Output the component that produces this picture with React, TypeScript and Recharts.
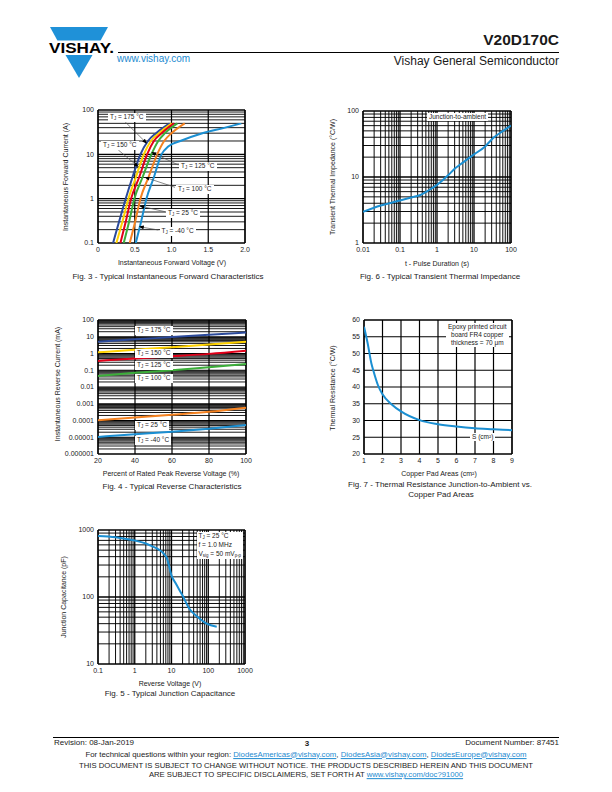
import React from "react";
import { LineChart, Line, XAxis, YAxis, ReferenceLine } from "recharts";

const FONT = '"Liberation Sans", Arial, Helvetica, sans-serif';
const INK = "#1a1a1a";
const LINK = "#1d8ad0";
const LOGO_BLUE = "#1f91d8";

const C175 = "#2b4a9b";
const C150 = "#ffd200";
const C125 = "#e2001a";
const C100 = "#3cae3a";
const C25 = "#f58220";
const CM40 = "#1b8fd2";

// Fig. 3 - forward characteristics: voltage (V) at each current level (A)
const fwdCurrent = [0.1, 0.3, 1, 3, 10, 20, 30, 50];
const fwdV175 = [0.205, 0.286, 0.377, 0.468, 0.577, 0.68, 0.79, 0.975];
const fwdV150 = [0.25, 0.332, 0.414, 0.514, 0.623, 0.72, 0.83, 1.005];
const fwdV125 = [0.305, 0.377, 0.45, 0.559, 0.668, 0.76, 0.865, 1.035];
const fwdV100 = [0.35, 0.423, 0.495, 0.605, 0.727, 0.82, 0.91, 1.08];
const fwdV25 = [0.432, 0.505, 0.577, 0.686, 0.805, 0.9, 1.0, 1.18];
const fwdCurrentCold = [0.1, 0.3, 1, 3, 10, 15, 20, 30, 40, 50];
const fwdVm40 = [0.514, 0.586, 0.659, 0.759, 0.864, 0.955, 1.12, 1.42, 1.73, 1.95];
const fwdVoltTicks = [0, 0.5, 1, 1.5, 2];
const fwdVoltLabels = ["0", "0.5", "1.0", "1.5", "2.0"];
const fwdAmpTicks = [0.1, 1, 10, 100];
const fwdAmpLabels = ["0.1", "1", "10", "100"];

// Fig. 6 - transient thermal impedance
const zthTime = [0.01, 0.03, 0.1, 0.2, 0.34, 0.6, 1, 2, 3, 5, 10, 20, 33, 60, 100];
const zthValue = [2.97, 3.7, 4.4, 4.9, 5.3, 6.3, 7.6, 10.6, 13.3, 16.5, 22, 29, 39, 49.5, 60];
const zthTimeTicks = [0.01, 0.1, 1, 10, 100];
const zthTimeLabels = ["0.01", "0.1", "1", "10", "100"];
const zthTicks = [1, 10, 100];
const zthLabels = ["1", "10", "100"];

// Fig. 4 - reverse characteristics (mA) vs percent of rated voltage
const revPct = [20, 40, 60, 80, 100];
const rev175 = [5.1, 7, 9.5, 13, 18];
const rev150 = [1.17, 1.7, 2.4, 3.4, 5.1];
const rev125 = [0.36, 0.5, 0.68, 0.95, 1.47];
const rev100 = [0.045, 0.07, 0.1, 0.15, 0.24];
const rev25 = [0.000105, 0.00015, 0.00022, 0.00033, 0.00058];
const revM40 = [0.0000105, 0.000015, 0.000021, 0.000032, 0.000053];
const revPctTicks = [20, 40, 60, 80, 100];
const revPctLabels = ["20", "40", "60", "80", "100"];
const revTicks = [0.000001, 0.00001, 0.0001, 0.001, 0.01, 0.1, 1, 10, 100];
const revLabels = ["0.000001", "0.00001", "0.0001", "0.001", "0.01", "0.1", "1", "10", "100"];

// Fig. 7 - thermal resistance vs copper pad area
const padArea = [1, 1.2, 1.4, 1.5, 1.75, 2, 2.5, 3, 4, 5, 6, 7, 8, 9];
const rthJA = [58, 53, 47, 45, 40.6, 37.8, 34.8, 32.7, 30.1, 28.9, 28.2, 27.7, 27.4, 27.1];
const padTicks = [1, 2, 3, 4, 5, 6, 7, 8, 9];
const padLabels = padTicks.map(String);
const rthTicks = [20, 25, 30, 35, 40, 45, 50, 55, 60];
const rthLabels = rthTicks.map(String);

// Fig. 5 - junction capacitance
const capVoltage = [0.1, 0.3, 1, 2, 3, 4.5, 6, 7.5, 9, 10, 13, 20, 30, 50, 90, 170];
const capValue = [815, 780, 695, 630, 570, 510, 450, 380, 260, 210, 160, 105, 68, 51, 40, 36];
const capVoltTicks = [0.1, 1, 10, 100, 1000];
const capVoltLabels = ["0.1", "1", "10", "100", "1000"];
const capTicks = [10, 100, 1000];
const capLabels = ["10", "100", "1000"];

type Pt = { x: number; y: number };
type GridLine = { v: number; w: number };
interface AxisSpec {
  domain: [number, number];
  log?: boolean;
  ticks: number[];
  labels: string[];
  grid: GridLine[];
}
interface SeriesSpec {
  name: string;
  points: Pt[];
  color: string;
  width: number;
}

const pts = (xs: number[], ys: number[]): Pt[] => xs.map((x, i) => ({ x, y: ys[i] }));

// log grid: every 1..9 inside each decade, the decade lines a bit heavier
const logGrid = (lo: number, hi: number, minor = 0.95, major = 1.3): GridLine[] => {
  const out: GridLine[] = [];
  for (let e = lo; e < hi; e++) {
    for (let k = 1; k < 10; k++) {
      if (e === lo && k === 1) continue;
      out.push({ v: k * Math.pow(10, e), w: k === 1 ? major : minor });
    }
  }
  return out;
};
const linGrid = (vals: number[]): GridLine[] => vals.map((v) => ({ v, w: 1.2 }));

const ML = 40;
const MT = 6;
const MR = 14;
const MB = 16;

function Panel({
  left,
  top,
  w,
  h,
  x,
  y,
  series,
}: {
  left: number;
  top: number;
  w: number;
  h: number;
  x: AxisSpec;
  y: AxisSpec;
  series: SeriesSpec[];
}) {
  const tickStyle = { fontSize: 7, fill: INK, fontFamily: FONT };
  const fmt = (a: AxisSpec) => (v: number) => {
    const i = a.ticks.indexOf(v);
    return i >= 0 ? a.labels[i] : String(v);
  };
  return (
    <div style={{ position: "absolute", left: left - ML, top: top - MT }}>
      <LineChart width={ML + w + MR} height={MT + h + MB} margin={{ top: MT, right: MR, left: 0, bottom: 0 }}>
        <XAxis
          dataKey="x"
          type="number"
          scale={x.log ? "log" : "linear"}
          domain={x.domain}
          allowDataOverflow
          ticks={x.ticks}
          interval={0}
          tickFormatter={fmt(x)}
          tick={tickStyle}
          tickLine={false}
          axisLine={false}
          tickSize={0}
          tickMargin={4}
          height={MB}
        />
        <YAxis
          dataKey="y"
          type="number"
          scale={y.log ? "log" : "linear"}
          domain={y.domain}
          allowDataOverflow
          ticks={y.ticks}
          interval={0}
          tickFormatter={fmt(y)}
          tick={tickStyle}
          tickLine={false}
          axisLine={false}
          tickSize={0}
          tickMargin={4}
          width={ML}
        />
        {x.grid.map((g) => (
          <ReferenceLine key={"gx" + g.v} x={g.v} stroke="#000" strokeWidth={g.w} zIndex={-100} />
        ))}
        {y.grid.map((g) => (
          <ReferenceLine key={"gy" + g.v} y={g.v} stroke="#000" strokeWidth={g.w} zIndex={-100} />
        ))}
        <ReferenceLine x={x.domain[0]} stroke="#000" strokeWidth={1.7} zIndex={-100} />
        <ReferenceLine x={x.domain[1]} stroke="#000" strokeWidth={1.7} zIndex={-100} />
        <ReferenceLine y={y.domain[0]} stroke="#000" strokeWidth={1.7} zIndex={-100} />
        <ReferenceLine y={y.domain[1]} stroke="#000" strokeWidth={1.7} zIndex={-100} />
        {series.map((s) => (
          <Line
            key={s.name}
            name={s.name}
            data={s.points}
            dataKey="y"
            type="monotone"
            stroke={s.color}
            strokeWidth={s.width}
            dot={false}
            activeDot={false}
            isAnimationActive={false}
          />
        ))}
      </LineChart>
    </div>
  );
}

const Sub = ({ children }: { children: React.ReactNode }) => (
  <span style={{ fontSize: "68%", position: "relative", top: "0.3em" }}>{children}</span>
);

const Txt = ({
  x,
  y,
  size = 7,
  anchor = "start",
  rotate = false,
  weight = 400,
  color = INK,
  children,
}: {
  x: number;
  y: number;
  size?: number;
  anchor?: "start" | "middle" | "end";
  rotate?: boolean;
  weight?: number;
  color?: string;
  children: React.ReactNode;
}) => {
  const tx = anchor === "middle" ? "-50%" : anchor === "end" ? "-100%" : "0";
  return (
    <div
      style={{
        position: "absolute",
        left: x,
        top: y,
        transform: rotate ? "translate(-50%,-50%) rotate(-90deg)" : `translate(${tx},-50%)`,
        fontSize: size,
        fontWeight: weight,
        color,
        whiteSpace: "nowrap",
        lineHeight: 1,
      }}
    >
      {children}
    </div>
  );
};

const Tag = ({
  x,
  y,
  children,
  center = false,
  lh = 8,
}: {
  x: number;
  y: number;
  children: React.ReactNode;
  center?: boolean;
  lh?: number;
}) => (
  <div
    style={{
      position: "absolute",
      left: x,
      top: y,
      background: "#fff",
      fontSize: 6.5,
      lineHeight: lh + "px",
      padding: "0 2px",
      whiteSpace: "nowrap",
      color: INK,
      textAlign: center ? "center" : "left",
    }}
  >
    {children}
  </div>
);

const Link = ({ children }: { children: React.ReactNode }) => (
  <span style={{ color: LINK, textDecoration: "underline" }}>{children}</span>
);

const TJ = ({ t }: { t: string }) => (
  <>
    T<Sub>J</Sub> = {t} °C
  </>
);

// leader lines of Fig. 3, page coordinates
const fig3Arrows = [
  [125, 121.7, 146.7, 143.3],
  [118.3, 150, 138.3, 166.7],
  [178.3, 165, 151.7, 152.3],
  [175, 187.3, 145, 177.3],
  [165, 211.7, 140, 206],
  [158.3, 230, 139.3, 226.7],
];

export default function App() {
  const fig3: SeriesSpec[] = [
    { name: "175", points: pts(fwdV175, fwdCurrent), color: C175, width: 2 },
    { name: "150", points: pts(fwdV150, fwdCurrent), color: C150, width: 2 },
    { name: "125", points: pts(fwdV125, fwdCurrent), color: C125, width: 2 },
    { name: "100", points: pts(fwdV100, fwdCurrent), color: C100, width: 2 },
    { name: "25", points: pts(fwdV25, fwdCurrent), color: C25, width: 2 },
    { name: "-40", points: pts(fwdVm40, fwdCurrentCold), color: CM40, width: 2 },
  ];
  const fig4: SeriesSpec[] = [
    { name: "175", points: pts(revPct, rev175), color: C175, width: 2 },
    { name: "150", points: pts(revPct, rev150), color: C150, width: 2 },
    { name: "125", points: pts(revPct, rev125), color: C125, width: 2 },
    { name: "100", points: pts(revPct, rev100), color: C100, width: 2 },
    { name: "25", points: pts(revPct, rev25), color: C25, width: 2 },
    { name: "-40", points: pts(revPct, revM40), color: CM40, width: 2 },
  ];

  return (
    <div
      style={{
        position: "absolute",
        left: 0,
        top: 0,
        width: 612,
        height: 792,
        overflow: "hidden",
        background: "#fff",
        fontFamily: FONT,
        color: INK,
      }}
    >
      {/* header */}
      <svg width={612} height={90} style={{ position: "absolute", left: 0, top: 0 }}>
        <polygon points="50,27 108,27 100.6,40.5 57.4,40.5" fill={LOGO_BLUE} />
        <polygon points="65.5,55 92.5,55 79,78" fill={LOGO_BLUE} />
        <text
          x={49}
          y={53}
          fontFamily={FONT}
          fontWeight={700}
          fontSize={14.5}
          textLength={65}
          lengthAdjust="spacingAndGlyphs"
          fill="#000"
        >
          VISHAY.
        </text>
        <line x1={118} y1={52.5} x2={559} y2={52.5} stroke="#000" strokeWidth={1} />
      </svg>
      <Txt x={559} y={40} size={15.5} weight={700} anchor="end">
        V20D170C
      </Txt>
      <Txt x={117} y={59} size={10} color={LINK}>
        www.vishay.com
      </Txt>
      <Txt x={559} y={61} size={12} anchor="end">
        Vishay General Semiconductor
      </Txt>

      {/* Fig. 3 */}
      <Panel
        left={98}
        top={110}
        w={147}
        h={133}
        x={{ domain: [0, 2], ticks: fwdVoltTicks, labels: fwdVoltLabels, grid: linGrid([0.5, 1, 1.5]) }}
        y={{ domain: [0.1, 100], log: true, ticks: fwdAmpTicks, labels: fwdAmpLabels, grid: logGrid(-1, 2, 0.9, 1.2) }}
        series={fig3}
      />
      {/* Fig. 6 */}
      <Panel
        left={363}
        top={111}
        w={148}
        h={132}
        x={{ domain: [0.01, 100], log: true, ticks: zthTimeTicks, labels: zthTimeLabels, grid: logGrid(-2, 2) }}
        y={{ domain: [1, 100], log: true, ticks: zthTicks, labels: zthLabels, grid: logGrid(0, 2) }}
        series={[{ name: "zth", points: pts(zthTime, zthValue), color: CM40, width: 2 }]}
      />
      {/* Fig. 4 */}
      <Panel
        left={98}
        top={320}
        w={148}
        h={134}
        x={{ domain: [20, 100], ticks: revPctTicks, labels: revPctLabels, grid: linGrid([40, 60, 80]) }}
        y={{ domain: [0.000001, 100], log: true, ticks: revTicks, labels: revLabels, grid: logGrid(-6, 2, 0.9, 1.2) }}
        series={fig4}
      />
      {/* Fig. 7 */}
      <Panel
        left={364}
        top={320}
        w={148}
        h={134}
        x={{ domain: [1, 9], ticks: padTicks, labels: padLabels, grid: linGrid([2, 3, 4, 5, 6, 7, 8]) }}
        y={{ domain: [20, 60], ticks: rthTicks, labels: rthLabels, grid: linGrid([25, 30, 35, 40, 45, 50, 55]) }}
        series={[{ name: "rth", points: pts(padArea, rthJA), color: CM40, width: 2 }]}
      />
      {/* Fig. 5 */}
      <Panel
        left={98}
        top={530}
        w={147}
        h={134}
        x={{ domain: [0.1, 1000], log: true, ticks: capVoltTicks, labels: capVoltLabels, grid: logGrid(-1, 3) }}
        y={{ domain: [10, 1000], log: true, ticks: capTicks, labels: capLabels, grid: logGrid(1, 3) }}
        series={[{ name: "cj", points: pts(capVoltage, capValue), color: CM40, width: 2 }]}
      />

      {/* Fig. 3 leader lines */}
      <svg width={612} height={792} style={{ position: "absolute", left: 0, top: 0, pointerEvents: "none" }}>
        <defs>
          <marker id="ah" markerWidth={5} markerHeight={4} refX={4.5} refY={2} orient="auto" markerUnits="userSpaceOnUse">
            <path d="M0,0 L5,2 L0,4 z" fill="#000" />
          </marker>
        </defs>
        {fig3Arrows.map((a, i) => (
          <line key={i} x1={a[0]} y1={a[1]} x2={a[2]} y2={a[3]} stroke="#555" strokeWidth={0.7} markerEnd="url(#ah)" />
        ))}
      </svg>

      {/* Fig. 3 labels */}
      <Tag x={108} y={112.5}><TJ t="175" /></Tag>
      <Tag x={101} y={141}><TJ t="150" /></Tag>
      <Tag x={179} y={162}><TJ t="125" /></Tag>
      <Tag x={176} y={184.5}><TJ t="100" /></Tag>
      <Tag x={166} y={209}><TJ t="25" /></Tag>
      <Tag x={159.5} y={227}><TJ t="-40" /></Tag>

      {/* Fig. 4 labels */}
      <Tag x={135} y={325.5}><TJ t="175" /></Tag>
      <Tag x={135} y={349}><TJ t="150" /></Tag>
      <Tag x={135} y={360.5}><TJ t="125" /></Tag>
      <Tag x={135} y={374}><TJ t="100" /></Tag>
      <Tag x={135} y={421}><TJ t="25" /></Tag>
      <Tag x={135} y={436}><TJ t="-40" /></Tag>

      {/* Fig. 6 / 7 / 5 notes */}
      <Tag x={427} y={112.5}>Junction-to-ambient</Tag>
      <Tag x={446} y={322.5} center lh={8.3}>
        Epoxy printed circuit
        <br />
        board FR4 copper
        <br />
        thickness = 70 μm
      </Tag>
      <Tag x={470} y={433}>S (cm²)</Tag>
      <Tag x={196.5} y={531.5} lh={8.5}>
        T<Sub>J</Sub> = 25 °C
        <br />f = 1.0 MHz
        <br />V<Sub>sig</Sub> = 50 mV<Sub>p-p</Sub>
      </Tag>

      {/* axis titles */}
      <Txt x={65} y={177} rotate>Instantaneous Forward Current (A)</Txt>
      <Txt x={172} y={262} anchor="middle">Instantaneous Forward Voltage (V)</Txt>
      <Txt x={332} y={177} rotate>Transient Thermal Impedance (°C/W)</Txt>
      <Txt x={437} y={262.5} anchor="middle">t - Pulse Duration (s)</Txt>
      <Txt x={57} y={384} rotate>Instantaneous Reverse Current (mA)</Txt>
      <Txt x={171} y={473} anchor="middle">Percent of Rated Peak Reverse Voltage (%)</Txt>
      <Txt x={332} y={388} rotate>Thermal Resistance (°C/W)</Txt>
      <Txt x={439} y={473} anchor="middle">Copper Pad Areas (cm²)</Txt>
      <Txt x={63} y={597} rotate>Junction Capacitance (pF)</Txt>
      <Txt x={170} y={683} anchor="middle">Reverse Voltage (V)</Txt>

      {/* captions */}
      <Txt x={168} y={277} size={8} anchor="middle">Fig. 3 - Typical Instantaneous Forward Characteristics</Txt>
      <Txt x={440} y={277} size={8} anchor="middle">Fig. 6 - Typical Transient Thermal Impedance</Txt>
      <Txt x={172} y={487} size={8} anchor="middle">Fig. 4 - Typical Reverse Characteristics</Txt>
      <Txt x={440} y={484.5} size={8} anchor="middle">Fig. 7 - Thermal Resistance Junction-to-Ambient vs.</Txt>
      <Txt x={441} y={494.5} size={8} anchor="middle">Copper Pad Areas</Txt>
      <Txt x={170} y={694} size={8} anchor="middle">Fig. 5 - Typical Junction Capacitance</Txt>

      {/* footer */}
      <svg width={612} height={20} style={{ position: "absolute", left: 0, top: 730 }}>
        <line x1={53} y1={7.5} x2={559} y2={7.5} stroke="#000" strokeWidth={1} />
      </svg>
      <Txt x={54} y={743} size={8}>Revision: 08-Jan-2019</Txt>
      <Txt x={307} y={743.5} size={8} weight={700} anchor="middle">3</Txt>
      <Txt x={559} y={743} size={8} anchor="end">Document Number: 87451</Txt>
      <Txt x={306} y={754.5} size={7.8} anchor="middle">
        For technical questions within your region: <Link>DiodesAmericas@vishay.com</Link>,{" "}
        <Link>DiodesAsia@vishay.com</Link>, <Link>DiodesEurope@vishay.com</Link>
      </Txt>
      <Txt x={306} y={765.5} size={7.7} anchor="middle">
        THIS DOCUMENT IS SUBJECT TO CHANGE WITHOUT NOTICE. THE PRODUCTS DESCRIBED HEREIN AND THIS DOCUMENT
      </Txt>
      <Txt x={306} y={775} size={7.7} anchor="middle">
        ARE SUBJECT TO SPECIFIC DISCLAIMERS, SET FORTH AT <Link>www.vishay.com/doc?91000</Link>
      </Txt>
    </div>
  );
}
